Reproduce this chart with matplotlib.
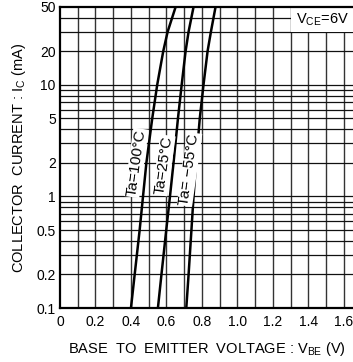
import matplotlib
matplotlib.use("Agg")
import matplotlib.pyplot as plt
from matplotlib.patches import Rectangle
import numpy as np

plt.rcParams["font.family"] = ["Liberation Sans", "DejaVu Sans"]

# collector current levels (mA) and base-emitter voltage (V) per curve
ic_ma = [0.1, 0.2, 0.5, 1, 2, 5, 10, 20, 30, 50]
vbe_100 = [0.400, 0.421, 0.449, 0.468, 0.487, 0.520, 0.548, 0.582, 0.607, 0.652]
vbe_25 = [0.552, 0.572, 0.599, 0.620, 0.640, 0.665, 0.686, 0.708, 0.725, 0.753]
vbe_m55 = [0.712, 0.725, 0.741, 0.753, 0.767, 0.788, 0.809, 0.832, 0.851, 0.877]

curve_labels = ["Ta=100°C", "Ta=25°C", "Ta= \u221255°C"]
label_pos = [(0.43, 2.0), (0.585, 1.9), (0.73, 1.75)]

x_ticks = [0, 0.2, 0.4, 0.6, 0.8, 1.0, 1.2, 1.4, 1.6]
x_tick_labels = ["0", "0.2", "0.4", "0.6", "0.8", "1.0", "1.2", "1.4", "1.6"]
y_ticks = [0.1, 0.2, 0.5, 1, 2, 5, 10, 20, 50]
y_tick_labels = ["0.1", "0.2", "0.5", "1", "2", "5", "10", "20", "50"]

fig = plt.figure(figsize=(3.53, 3.62), dpi=100)
ax = fig.add_axes([0.170, 0.149, 0.830, 0.832])
ax.set_yscale("log")
ax.set_xlim(0, 1.652)
ax.set_ylim(0.1, 50)

# grid
for xv in np.arange(0.1, 1.65, 0.1):
    ax.axvline(xv, color="#333333", lw=1.0, zorder=1)
for dec in [0.1, 1, 10]:
    for m in range(1, 10):
        yv = dec * m
        if 0.1 < yv < 50:
            ax.axhline(yv, color="#111111", lw=0.9, zorder=1)

for v, lab, (lx, ly) in zip([vbe_100, vbe_25, vbe_m55], curve_labels, label_pos):
    ax.plot(v, ic_ma, color="black", lw=1.8, zorder=3)
    ax.text(lx, ly, lab, rotation=82, fontsize=11, ha="center", va="center",
            zorder=4, bbox=dict(facecolor="white", edgecolor="none", pad=0.5))

ax.add_patch(Rectangle((1.3, 30), 0.4, 25, facecolor="white", edgecolor="none",
                       zorder=2))
ax.text(1.478, 38.5, r"V$_{\mathregular{CE}}$=6V", fontsize=10.5, ha="center",
        va="center", zorder=4)

ax.set_xticks(x_ticks)
ax.set_xticklabels(x_tick_labels)
ax.set_yticks(y_ticks)
ax.set_yticklabels(y_tick_labels)
ax.minorticks_off()
ax.tick_params(length=0, labelsize=10)
ax.tick_params(axis="x", pad=5)
ax.tick_params(axis="y", pad=3)

for side in ["left", "bottom", "top"]:
    ax.spines[side].set_linewidth(1.6)
    ax.spines[side].set_zorder(5)
ax.spines["right"].set_visible(False)

ax.set_xlabel(r"BASE  TO  EMITTER  VOLTAGE : V$_{\mathregular{BE}}$ (V)",
              fontsize=10.5, labelpad=8)
ax.set_ylabel(r"COLLECTOR  CURRENT : I$_{\mathregular{C}}$ (mA)",
              fontsize=10.5, labelpad=6)

fig.savefig("out.png", dpi=100)
